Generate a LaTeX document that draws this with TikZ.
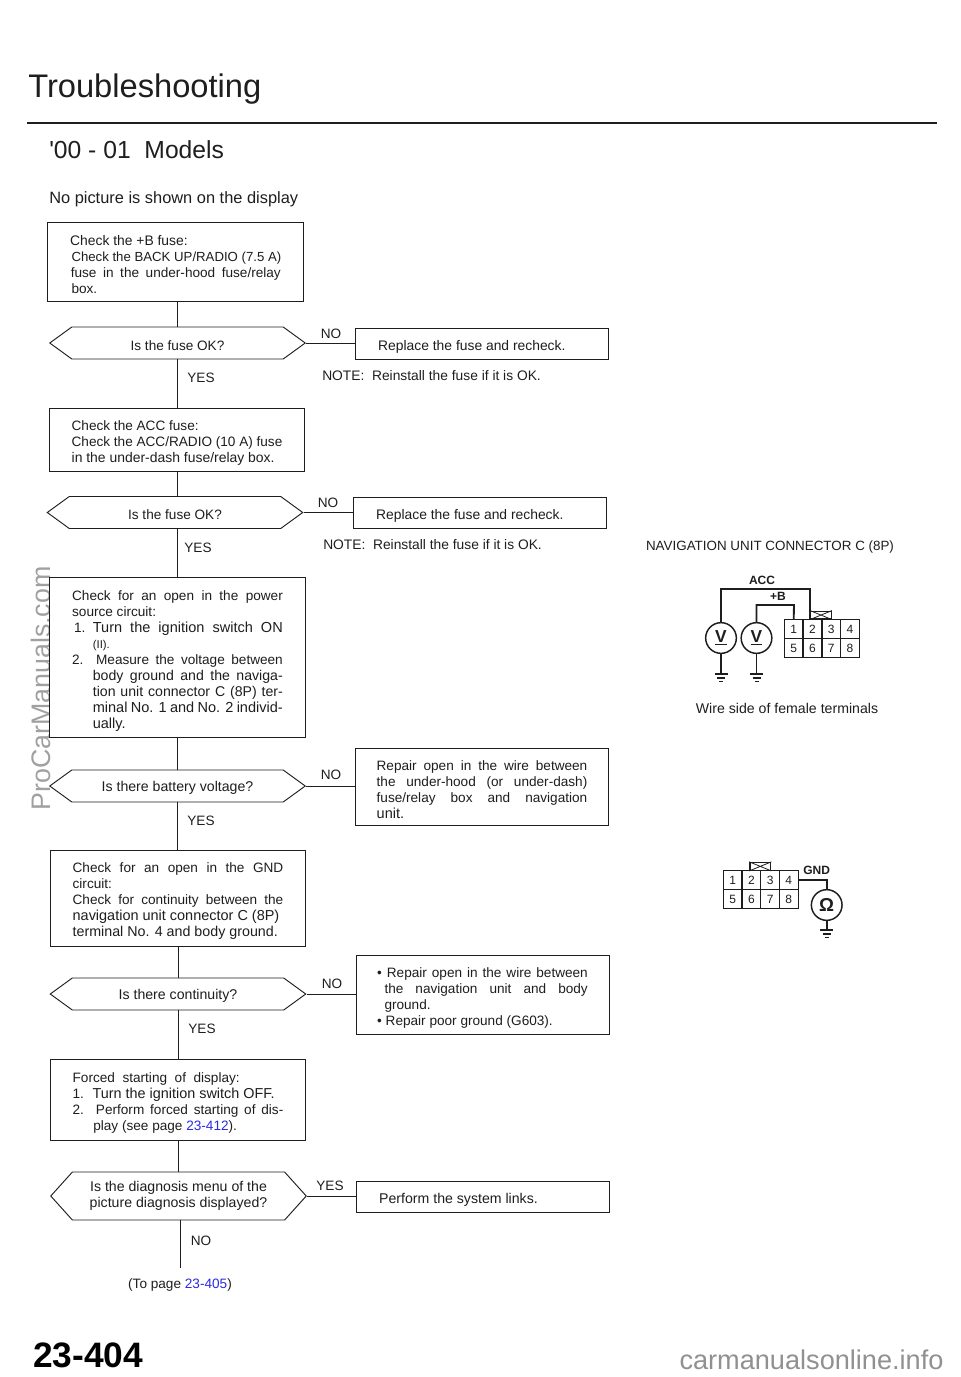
\documentclass[tikz,border=0pt]{standalone}
\usepackage{xcolor}
\usepackage{fontspec}
\setmainfont{Liberation Sans}
\usetikzlibrary{shapes.symbols, positioning, calc}
\definecolor{inkgray}{HTML}{1E1E1E}
\definecolor{markgray}{HTML}{A0A0A0}
\definecolor{footgray}{HTML}{909090}
\definecolor{linkblue}{HTML}{2A2AE6}
\newcommand{\bodyfont}{\fontsize{10.2}{12}\selectfont}
\newcommand{\fsz}[1]{\fontsize{#1}{12}\selectfont}
\tikzset{
  chk/.style={rectangle, draw=inkgray, line width=0.7pt, fill=white, text=inkgray,
    font=\bodyfont, minimum width=191.6pt, text width=158pt, align=justify, inner sep=0pt,
    execute at begin node=\rule{0pt}{12pt}},
  rep/.style={rectangle, draw=inkgray, line width=0.7pt, fill=white, text=inkgray,
    font=\bodyfont, minimum width=189.75pt, text width=158pt, align=justify, inner sep=0pt,
    execute at begin node=\rule{0pt}{12pt}},
  hex/.style={signal, signal to=west and east, signal pointer angle=72, draw=inkgray, line width=0.7pt,
    fill=white, text=inkgray, font=\bodyfont, minimum width=191.6pt, minimum height=24pt,
    align=center, inner sep=0pt, execute at begin node=\rule{0pt}{11pt}},
  ln/.style={draw=inkgray, line width=0.7pt},
  lb/.style={font=\bodyfont, text=inkgray, inner sep=0pt},
  note/.style={font=\fsz{10.35}, text=inkgray, inner sep=0pt, anchor=west},
  wire/.style={draw=inkgray, line width=1.4pt},
  cell/.style={rectangle, draw=inkgray, line width=1pt, minimum size=14.06pt, inner sep=0pt,
    text=inkgray, font=\fontsize{9}{9}\selectfont},
  meter/.style={circle, draw=inkgray, line width=1.1pt, minimum size=23pt, inner sep=0pt,
    text=inkgray, font=\bfseries\fontsize{13}{13}\selectfont},
  wirelb/.style={font=\bfseries\fontsize{9}{9}\selectfont, text=inkgray, inner sep=0pt},
  tab/.style={rectangle, draw=inkgray, line width=1pt, minimum width=15.5pt, minimum height=5.8pt, inner sep=0pt},
  gnd/.pic={
    \draw[inkgray, line width=0.9pt] (-6.5,0) -- (6.5,0) (-4,4) -- (4,4) (-2,7.5) -- (2,7.5);
  },
}
\begin{document}
\begin{tikzpicture}[x=0.75pt, y=-0.75pt]
  \useasboundingbox (0,0) rectangle (960,1377);

  \node[rotate=90, text=markgray, font=\fontsize{20.1}{22}\selectfont, inner sep=0pt] (markside) at (41,688.5) {ProCarManuals.com};
  \node[text=footgray, font=\fontsize{20.35}{22}\selectfont, inner sep=0pt] (markfoot) at (811.5,1360) {carmanualsonline.info};

  \node[anchor=base west, text=inkgray, font=\fontsize{24.5}{26}\selectfont, inner sep=0pt] (title) at (28,98) {Troubleshooting};
  \coordinate (rulea) at (27,123);
  \coordinate (ruleb) at (937,123);
  \draw[inkgray, line width=2.2pt] (rulea) -- (ruleb);
  \node[anchor=base west, text=inkgray, font=\fontsize{18.5}{20}\selectfont, inner sep=0pt] (models) at (49,159) {\textquotesingle 00 - 01\ \ Models};
  \node[anchor=base west, text=inkgray, font=\fontsize{12.3}{14}\selectfont, inner sep=0pt] (symptom) at (49,203) {No picture is shown on the display};

  \node[chk, minimum height=59.25pt] (chk1) at (175.5,261.5) {{\fsz{10.4}Check the +B fuse:}\\
    \hspace*{1pt}\mbox{\fsz{9.9}Check the BACK UP/RADIO (7.5 A)}\\
    \hspace*{0.5pt}fuse in the under-hood fuse/relay\linebreak
    \hspace*{1pt}box.};
  \node[hex] (hex1) at (177.5,343) {Is the fuse OK?};
  \node[rep, minimum height=23.25pt] (rep1) at (481.5,343.5) {\hspace*{1.5pt}{\fsz{10.4}Replace the fuse and recheck.}};
  \node[lb] (no1) at (331,334) {NO};
  \node[lb] (yes1) at (201,378) {YES};
  \node[note] (note1) at (322,376) {NOTE:\ \ Reinstall the fuse if it is OK.};

  \node[chk, minimum height=47.25pt] (chk2) at (177,439.5) {Check the ACC fuse:\\
    Check the ACC/RADIO (10 A) fuse\linebreak
    {\fsz{10.45}in the under-dash fuse/relay box.}};
  \node[hex] (hex2) at (175,512.5) {Is the fuse OK?};
  \node[rep, minimum height=23.25pt] (rep2) at (479.5,512.5) {\hspace*{1.5pt}{\fsz{10.4}Replace the fuse and recheck.}};
  \node[lb] (no2) at (328,503) {NO};
  \node[lb] (yes2) at (198,548) {YES};
  \node[note] (note2) at (323,545) {NOTE:\ \ Reinstall the fuse if it is OK.};

  \node[chk, minimum height=120pt] (chk3) at (177.5,657.75) {Check for an open in the power\linebreak
    source circuit:\\
    \hspace*{1.5pt}\makebox[14pt][l]{1.}{\fsz{10.9}Turn the ignition switch ON}\linebreak
    \hspace*{15.5pt}{\fsz{8.5}(II).}\\
    \makebox[18pt][l]{2.}Measure the voltage between\linebreak
    \hspace*{15.5pt}{\fsz{10.6}body ground and the naviga-}\linebreak
    \hspace*{15.5pt}{\fsz{10.6}tion unit connector C (8P) ter-}\linebreak
    \hspace*{15.5pt}{\fsz{10.9}minal No. 1 and No. 2 individ-}\linebreak
    \hspace*{15.5pt}{\fsz{10.9}ually.}};
  \node[hex, font=\fsz{10.6}] (hex3) at (177.5,786) {Is there battery voltage?};
  \node[rep, minimum height=57.75pt] (rep3) at (482,786.5) {Repair open in the wire between\linebreak
    the under-hood (or under-dash)\linebreak
    fuse/relay box and navigation\linebreak
    {\fsz{10.9}unit.}};
  \node[lb] (no3) at (331,775) {NO};
  \node[lb] (yes3) at (201,821) {YES};

  \node[chk, minimum height=72pt] (chk4) at (178,898) {Check for an open in the GND\linebreak
    circuit:\\
    Check for continuity between the\linebreak
    {\fsz{10.85}navigation unit connector C (8P)}\\
    {\fsz{10.7}terminal No. 4 and body ground.}};
  \node[hex, font=\fsz{10.6}] (hex4) at (178,994) {Is there continuity?};
  \node[rep, minimum height=59.25pt] (rep4) at (482.5,994.5) {\textbullet\ Repair open in the wire between\linebreak
    \hspace*{5.5pt}the navigation unit and body\linebreak
    \hspace*{5.5pt}ground.\\
    \textbullet\ Repair poor ground (G603).};
  \node[lb] (no4) at (332,984) {NO};
  \node[lb] (yes4) at (202,1029) {YES};

  \node[chk, minimum height=60.75pt] (chk5) at (178,1099.5) {Forced\ \ starting\ \ of\ \ display:\\
    \makebox[15pt][l]{1.}{\fsz{10.8}Turn the ignition switch OFF.}\\
    \makebox[17.5pt][l]{2.}Perform forced starting of dis-\linebreak
    \hspace*{15.5pt}play (see page \textcolor{linkblue}{23-412}).};
  \node[hex, font=\fsz{10.6}, minimum height=36pt, signal pointer angle=96] (hex5) at (178.5,1196) {Is the diagnosis menu of the\\picture diagnosis displayed?};
  \node[rep, minimum height=23.25pt] (rep5) at (482.5,1196.5) {\hspace*{1.5pt}{\fsz{10.6}Perform the system links.}};
  \node[lb] (yes5) at (330,1186) {YES};
  \node[lb] (no5) at (201,1241) {NO};
  \coordinate (endline) at (180,1268);
  \node[lb] (topage) at (180,1285) {(To page \textcolor{linkblue}{23-405})};

  \draw[ln] (hex1.north |- chk1.south) -- (hex1.north);
  \draw[ln] (hex1.south) -- (hex1.south |- chk2.north);
  \draw[ln] (chk2.south) -- (chk2.south |- hex2.north);
  \draw[ln] (chk3.north |- hex2.south) -- (chk3.north);
  \draw[ln] (chk3.south) -- (chk3.south |- hex3.north);
  \draw[ln] (hex3.south) -- (hex3.south |- chk4.north);
  \draw[ln] (chk4.south) -- (hex4.north);
  \draw[ln] (hex4.south) -- (chk5.north);
  \draw[ln] (chk5.south) -- (chk5.south |- hex5.north);
  \draw[ln] (endline |- hex5.south) -- (endline);
  \draw[ln] (hex1.east) -- (hex1.east -| rep1.west);
  \draw[ln] (hex2.east) -- (hex2.east -| rep2.west);
  \draw[ln] (hex3.east) -- (hex3.east -| rep3.west);
  \draw[ln] (hex4.east) -- (hex4.east -| rep4.west);
  \draw[ln] (hex5.east) -- (hex5.east -| rep5.west);

  \node[lb, font=\fsz{10.05}] (navlabel) at (770,547) {NAVIGATION UNIT CONNECTOR C (8P)};
  \foreach \n/\cx/\cy in {1/793.7/629,2/812.4/629,3/831.2/629,4/850/629,5/793.7/648,6/812.4/648,7/831.2/648,8/850/648}
    \node[cell] (ca\n) at (\cx,\cy) {\n};
  \node[tab, anchor=south] (taba) at (821,619.6) {};
  \draw[inkgray, line width=0.6pt] (taba.north west) -- (taba.south east) (taba.south west) -- (taba.north east);
  \node[meter] (va) at (721,638) {\underline{V}};
  \node[meter] (vb) at (756.5,638) {\underline{V}};
  \coordinate (acctop) at (810.3,589.3);
  \coordinate (vbtop) at (794,605);
  \coordinate (gnda) at (721,674);
  \coordinate (gndb) at (756.5,674);
  \draw[wire] (va.north) |- (acctop) -- (acctop |- ca2.north);
  \draw[wire] (vb.north) |- (vbtop) -- (ca1.north);
  \draw[wire] (va.south) -- (gnda);
  \draw[wire] (vb.south) -- (gndb);
  \pic at (gnda) {gnd};
  \pic at (gndb) {gnd};
  \node[wirelb] (acclb) at (762,580) {ACC};
  \node[wirelb] (blb) at (778,596) {+B};
  \node[lb, font=\fsz{10.6}] (wireside) at (787,708) {Wire side of female terminals};

  \foreach \n/\cx/\cy in {1/732.7/880,2/751.4/880,3/770.1/880,4/788.8/880,5/732.7/899,6/751.4/899,7/770.1/899,8/788.8/899}
    \node[cell] (cb\n) at (\cx,\cy) {\n};
  \node[tab, anchor=south] (tabb) at (760.3,870.9) {};
  \draw[inkgray, line width=0.6pt] (tabb.north west) -- (tabb.south east) (tabb.south west) -- (tabb.north east);
  \node[meter, font=\bfseries\fontsize{14}{14}\selectfont] (vo) at (826.7,905) {Ω};
  \coordinate (gndc) at (826.7,930);
  \draw[wire] (cb4.east) -| (vo.north);
  \draw[wire] (vo.south) -- (gndc);
  \pic at (gndc) {gnd};
  \node[wirelb] (gndlb) at (816.7,870.7) {GND};

  \node[anchor=base west, text=black, font=\bfseries\fontsize{26.5}{28}\selectfont, inner sep=0pt] (pageno) at (33,1367) {23-404};
\end{tikzpicture}
\end{document}
